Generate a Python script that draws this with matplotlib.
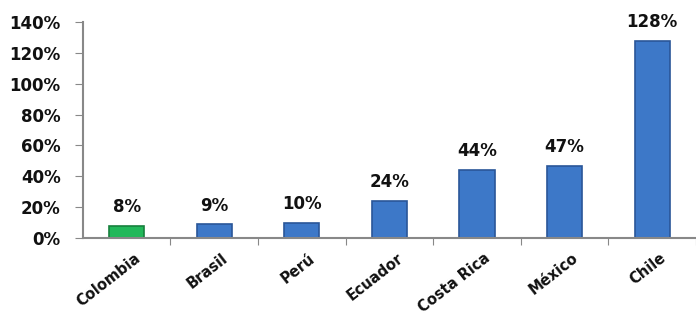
import matplotlib
matplotlib.use('Agg')
import matplotlib.pyplot as plt

countries = ['Colombia', 'Brasil', 'Perú', 'Ecuador', 'Costa Rica', 'México', 'Chile']
values = [8, 9, 10, 24, 44, 47, 128]
labels = ['8%', '9%', '10%', '24%', '44%', '47%', '128%']
yticks = [0, 20, 40, 60, 80, 100, 120, 140]

plt.rcParams['font.family'] = ['DejaVu Sans']
plt.rcParams['font.weight'] = 'bold'

fig = plt.figure(figsize=(6.96, 3.28), dpi=100)
ax = fig.add_axes([0.119, 0.274, 0.881, 0.659])

# first bar green, the rest blue
colors = ['#22b85a'] + ['#3d78c8'] * (len(countries) - 1)
edges = ['#17803d'] + ['#2a5698'] * (len(countries) - 1)
x = list(range(len(countries)))
ax.bar(x, values, width=0.4, color=colors, edgecolor=edges, linewidth=1.2)

for xi, v, lab in zip(x, values, labels):
    ax.annotate(lab, (xi, v), xytext=(0, 7), textcoords='offset points',
                ha='center', va='bottom', fontsize=12, fontweight='bold', color='#111111')

ax.set_xlim(-0.5, 6.39)
ax.set_ylim(0, 140)
ax.set_yticks(yticks)
ax.set_yticklabels([str(t) + '%' for t in yticks], fontsize=12, fontweight='bold', color='#111111')
ax.set_xticks([i + 0.5 for i in x])
ax.set_xticklabels([])
ax.tick_params(axis='x', length=5, color='#888888', direction='out')
ax.tick_params(axis='y', length=6, color='#888888', direction='out', pad=10)
for xi, name in zip(x, countries):
    ax.text(xi + 0.08, -8, name, rotation=38, ha='right', va='top', rotation_mode='anchor',
            fontsize=10.5, fontweight='bold', color='#111111', transform=ax.transData)

for s in ['top', 'right']:
    ax.spines[s].set_visible(False)
for s in ['left', 'bottom']:
    ax.spines[s].set_color('#888888')
    ax.spines[s].set_linewidth(1.5)

fig.savefig('out.png', dpi=100)
